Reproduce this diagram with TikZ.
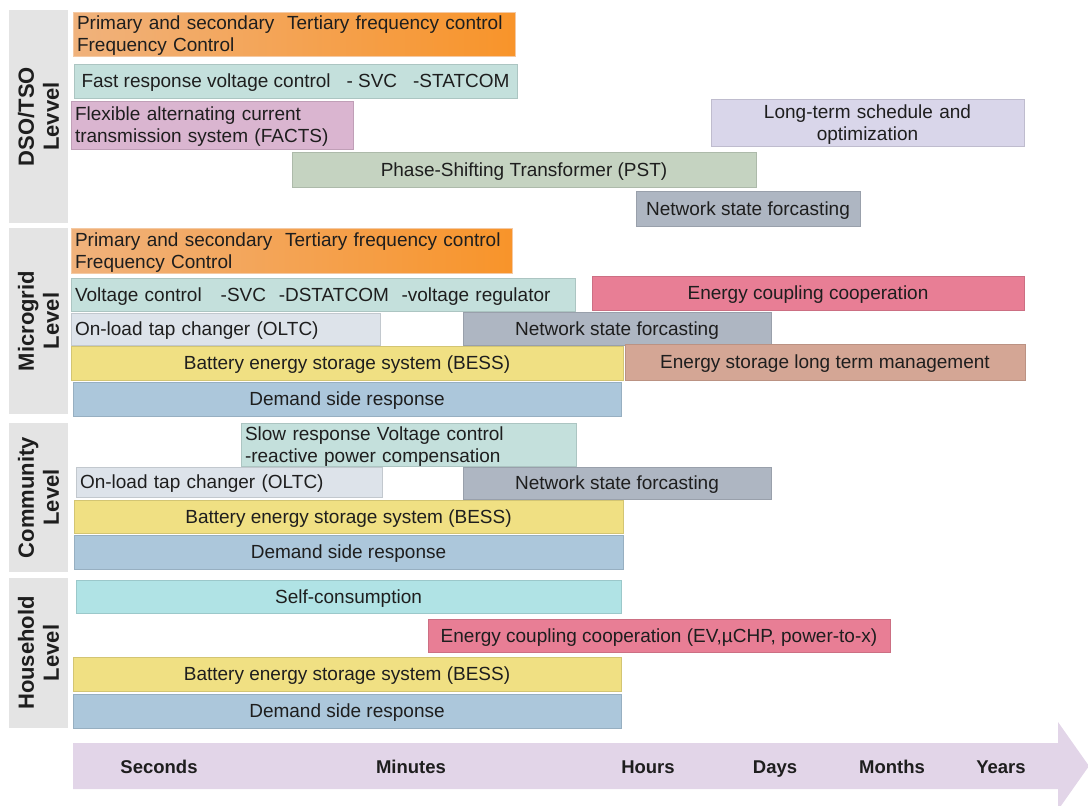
\documentclass[tikz,border=0pt]{standalone}
\usepackage{fontspec}
\setmainfont{Liberation Sans}
\definecolor{orngL}{HTML}{F0B27C}
\definecolor{orngR}{HTML}{F8942A}
\definecolor{tealc}{HTML}{C4E0DC}
\definecolor{pinkc}{HTML}{DAB5D0}
\definecolor{sagec}{HTML}{C5D3C1}
\definecolor{lavc}{HTML}{D9D6EA}
\definecolor{netc}{HTML}{AEB6C2}
\definecolor{redc}{HTML}{E87E95}
\definecolor{oltc}{HTML}{DDE3EA}
\definecolor{yelc}{HTML}{F0E083}
\definecolor{brownc}{HTML}{D4A695}
\definecolor{bluec}{HTML}{ACC7DB}
\definecolor{cyanc}{HTML}{B0E3E5}
\definecolor{levc}{HTML}{E4E4E4}
\definecolor{arrowc}{HTML}{E2D5E8}
\definecolor{txt}{HTML}{1E1E1E}
\tikzset{%
  box/.style={draw=#1!88!black, fill=#1, line width=0.6pt, anchor=north west,
    inner xsep=4pt, inner ysep=1pt, outer sep=0pt, text=txt,
    font=\fontsize{19}{22}\selectfont},
  bar/.style={box=#1, text height=13.6pt, text depth=0pt},
  lbar/.style={bar=#1, align=left},
  mbar/.style={box=#1, align=left, inner ysep=0pt, execute at begin node=\rule{0pt}{17.5pt}},
  orng/.style={mbar=orngR, left color=orngL, right color=orngR, draw=orngL!70!white},
  lvl/.style={fill=levc, rotate=90, align=center, inner sep=0pt, text=txt,
    font=\bfseries\fontsize{22}{25}\selectfont},
  tick/.style={text=txt, anchor=base, font=\bfseries\fontsize{18.5}{20}\selectfont}
}

\begin{document}
\begin{tikzpicture}[x=1pt, y=-1pt]
\path[use as bounding box, clip] (0,0) rectangle (1088,806);

% level bars
\foreach \nm/\ya/\yb/\txt in {dso/10/223/{DSO/TSO\\Levvel}, mg/228/414/{Microgrid\\Level},
  com/423/572/{Community\\Level}, hh/578/728/{Household\\Level}}{
  \node[lvl, minimum width=\yb-\ya, minimum height=59] (\nm) at (38.5,{(\ya+\yb)/2}) {\txt};
}

% DSO/TSO
\node[orng, minimum width=442, minimum height=44, text width=434] (dsoFreq) at (73,12)
  {Primary and secondary\ \ Tertiary frequency control\\Frequency Control};
\node[bar=tealc, minimum width=443, minimum height=34] (dsoVolt) at (74,64)
  {Fast response voltage control~~~-~SVC~~~-STATCOM};
\node[mbar=pinkc, minimum width=282, minimum height=48, text width=274] (dsoFacts) at (71,101)
  {Flexible alternating current\\transmission system (FACTS)};
\node[mbar=lavc, align=center, minimum width=313, minimum height=47, text width=305] (dsoLong) at (711,99)
  {Long-term schedule and\\optimization};
\node[bar=sagec, minimum width=464, minimum height=35] (dsoPst) at (292,152) {Phase-Shifting Transformer (PST)};
\node[bar=netc, minimum width=224, minimum height=35] (dsoNet) at (636,191) {Network state forcasting};

% microgrid
\node[orng, minimum width=441, minimum height=45, text width=433] (mgFreq) at (71,228)
  {Primary and secondary\ \ Tertiary frequency control\\Frequency Control};
\node[lbar=tealc, minimum width=504, minimum height=33, text width=496] (mgVolt) at (71,278)
  {Voltage control~~~-SVC~~-DSTATCOM~~-voltage regulator};
\node[bar=redc, minimum width=432, minimum height=34] (mgCoup) at (592,276) {Energy coupling cooperation};
\node[lbar=oltc, minimum width=309, minimum height=32, text width=301] (mgOltc) at (71,313) {On-load tap changer (OLTC)};
\node[bar=netc, minimum width=308, minimum height=33] (mgNet) at (463,312) {Network state forcasting};
\node[bar=yelc, minimum width=552, minimum height=34] (mgBess) at (71,346) {Battery energy storage system (BESS)};
\node[bar=brownc, minimum width=400, minimum height=36] (mgStore) at (625,344) {Energy storage long term management};
\node[bar=bluec, minimum width=548, minimum height=34] (mgDsr) at (73,382) {Demand side response};

% community
\node[mbar=tealc, minimum width=335, minimum height=43, text width=327] (comVolt) at (241,423)
  {Slow response Voltage control\\-reactive power compensation};
\node[lbar=oltc, minimum width=306, minimum height=30, text width=298] (comOltc) at (76,467) {On-load tap changer (OLTC)};
\node[bar=netc, minimum width=308, minimum height=32] (comNet) at (463,467) {Network state forcasting};
\node[bar=yelc, minimum width=549, minimum height=33] (comBess) at (74,500) {Battery energy storage system (BESS)};
\node[bar=bluec, minimum width=549, minimum height=34] (comDsr) at (74,535) {Demand side response};

% household
\node[bar=cyanc, minimum width=545, minimum height=33] (hhSelf) at (76,580) {Self-consumption};
\node[bar=redc, minimum width=462, minimum height=33] (hhCoup) at (428,619) {Energy coupling cooperation (EV,µCHP, power-to-x)};
\node[bar=yelc, minimum width=548, minimum height=34] (hhBess) at (73,657) {Battery energy storage system (BESS)};
\node[bar=bluec, minimum width=548, minimum height=34] (hhDsr) at (73,694) {Demand side response};

% time axis
\fill[arrowc] (73,743) -- (1058,743) -- (1058,722) -- (1089,766) -- (1058,810) -- (1058,789) -- (73,789) -- cycle;
\foreach \x/\t in {159/Seconds, 411/Minutes, 648/Hours, 775/Days, 892/Months, 1001/Years}{
  \node[tick] (\t) at (\x,773) {\t};
}

\end{tikzpicture}
\end{document}
